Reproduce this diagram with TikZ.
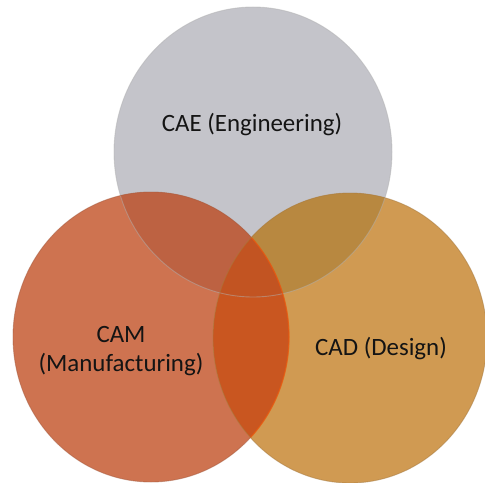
\documentclass[tikz,border=0pt]{standalone}
\usepackage{fontspec}
\setmainfont{Carlito}
\begin{document}
\begin{tikzpicture}[x=1bp,y=-1bp,
  lbl/.style={font=\fontsize{25}{30}\selectfont, text=black!92, align=center, inner sep=0pt},
  rim/.style={line width=0.9bp, draw opacity=0.5}]
\definecolor{cG}{RGB}{196,196,202}
\definecolor{cL}{RGB}{206,115,80}
\definecolor{cR}{RGB}{208,154,82}
\definecolor{cGL}{RGB}{189,98,66}
\definecolor{cGR}{RGB}{184,136,64}
\definecolor{cLR}{RGB}{201,86,32}
\definecolor{cGLR}{RGB}{194,84,34}
\useasboundingbox (0,0) rectangle (485,483);
\def\GE{(253,152) ellipse [x radius=139, y radius=145]}
\def\LE{(151,337) ellipse [x radius=138, y radius=145]}
\def\RE{(350,338) ellipse [x radius=137, y radius=145]}
% base fills
\fill[cG] \GE;
\fill[cL] \LE;
\fill[cR] \RE;
% overlaps
\begin{scope} \clip \GE; \fill[cGL] \LE; \end{scope}
\begin{scope} \clip \GE; \fill[cGR] \RE; \end{scope}
\begin{scope} \clip \LE; \fill[cLR] \RE; \end{scope}
\begin{scope} \clip \GE; \clip \LE; \fill[cGLR] \RE; \end{scope}
% rims
\draw[rim, draw=black!30] \GE;
\draw[rim, draw=cL!80!black] \LE;
\begin{scope} \clip \RE; \draw[line width=1.2bp, draw=orange!70!red, draw opacity=0.6] \LE; \end{scope}
\draw[rim, draw=cR!80!black] \RE;
% labels
\node[lbl] (cae) at (252,125) {CAE (Engineering)};
\node[lbl] (cam) at (121,351) {CAM\\(Manufacturing)};
\node[lbl] (cad) at (381,349) {CAD (Design)};
\end{tikzpicture}
\end{document}
